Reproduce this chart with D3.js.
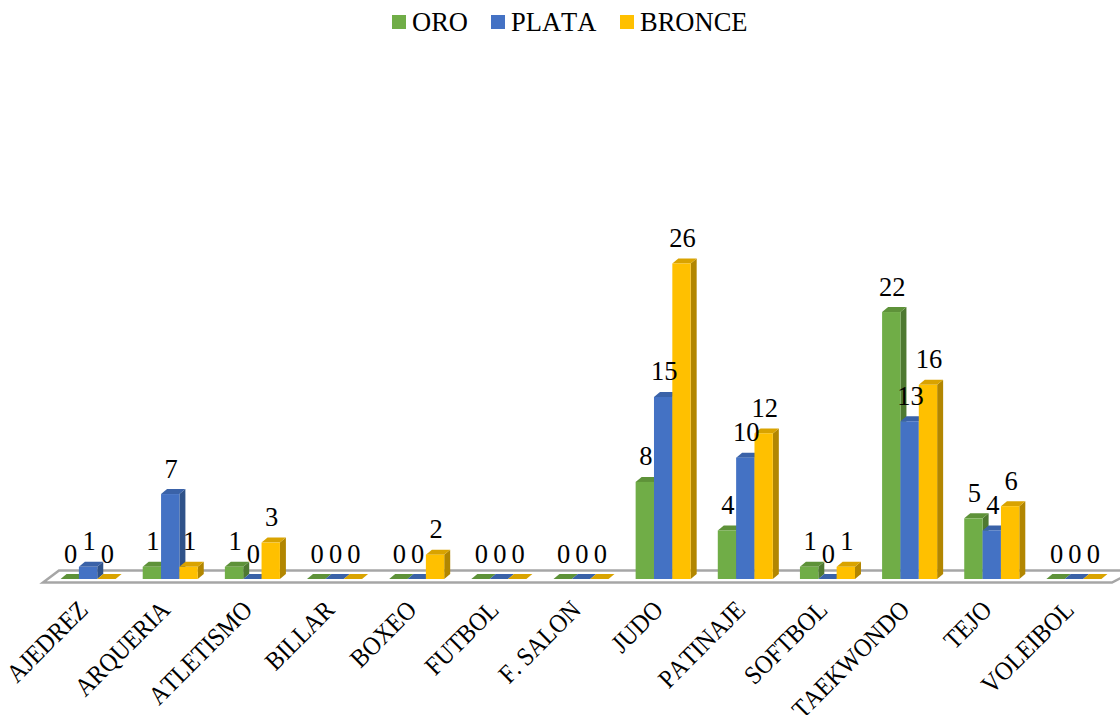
<!DOCTYPE html>
<html lang="es">
<head>
<meta charset="utf-8" />
<title>Medallas por deporte</title>
<script src="https://d3js.org/d3.v7.min.js"></script>
<style>
body { margin: 0; background: #fff; }
svg { display: block; font-family: "Liberation Serif", serif; fill: #000; font-kerning: none; }
</style>
</head>
<body>
<svg width="1120" height="715"></svg>
<script>
// data
var categories = ["AJEDREZ", "ARQUERIA", "ATLETISMO", "BILLAR", "BOXEO", "FUTBOL", "F. SALON", "JUDO", "PATINAJE", "SOFTBOL", "TAEKWONDO", "TEJO", "VOLEIBOL"];
var seriesNames = ["ORO", "PLATA", "BRONCE"];
var oro = [0, 1, 1, 0, 0, 0, 0, 8, 4, 1, 22, 5, 0];
var plata = [1, 7, 0, 0, 0, 0, 0, 15, 10, 0, 13, 4, 0];
var bronce = [0, 1, 3, 0, 2, 0, 0, 26, 12, 1, 16, 6, 0];
var seriesValues = [oro, plata, bronce];

var front = ["#70ad47", "#4472c4", "#ffc000"];
var side = ["#4e7931", "#2f5289", "#b28600"];
var top_ = ["#5e9239", "#3a62a8", "#d9a300"];

var svg = d3.select("svg");
var baseY = 579, depthX = 6, depthY = 5;

var x = d3.scaleBand().domain(categories).range([47, 1115]).paddingInner(0.33).paddingOuter(0.165);
var xs = d3.scaleBand().domain(seriesNames).range([0, x.bandwidth()]);
var y = d3.scaleLinear().domain([0, 26]).range([baseY, 263.5]);

// floor
svg.append("path")
	.attr("d", "M43,582.5L59,570.5H1135L1112,582.5Z")
	.attr("fill", "#fff")
	.attr("stroke", "#a6a6a6")
	.attr("stroke-width", 2.5);

// bars, left to right so that each one covers the side of the one before
var groups = svg.append("g").selectAll("g")
	.data(categories)
	.enter().append("g")
	.attr("transform", function(d) { return "translate(" + x(d) + ",0)"; });

groups.each(function(cat, i) {
	var g = d3.select(this);
	seriesNames.forEach(function(name, s) {
		var x0 = xs(name), w = xs.bandwidth(), v = seriesValues[s][i], t = y(v);
		g.append("path").attr("fill", side[s])
			.attr("d", "M" + (x0 + w) + "," + t + "l" + depthX + "," + (-depthY) + "V" + (baseY - depthY) + "l" + (-depthX) + "," + depthY + "Z");
		g.append("path").attr("fill", top_[s])
			.attr("d", "M" + x0 + "," + t + "l" + depthX + "," + (-depthY) + "h" + w + "l" + (-depthX) + "," + depthY + "Z");
		g.append("rect").attr("fill", front[s])
			.attr("x", x0).attr("y", t).attr("width", w).attr("height", baseY - t);
	});
});

// value labels on top of all bars
groups.each(function(cat, i) {
	var g = d3.select(this);
	seriesNames.forEach(function(name, s) {
		g.append("text")
			.attr("x", xs(name) + xs.bandwidth() / 2 + 1)
			.attr("y", y(seriesValues[s][i]) - 16.5)
			.attr("text-anchor", "middle")
			.attr("font-size", 26.5)
			.text(seriesValues[s][i]);
	});
});

// category axis, the slanted labels are a bit narrower than the font
var axis = svg.append("g")
	.attr("transform", "translate(0,590)")
	.call(d3.axisBottom(x).tickSize(0).tickPadding(0));
axis.select(".domain").remove();
axis.selectAll("text")
	.attr("font-family", "Liberation Serif")
	.attr("font-size", 26)
	.attr("fill", "#000")
	.attr("text-anchor", "end")
	.attr("dy", "0.35em")
	.attr("transform", "translate(-5,15) rotate(-45) scale(0.91,1)");

// legend
var legendX = [392, 491, 620];
var legend = svg.append("g").selectAll("g")
	.data(seriesNames)
	.enter().append("g")
	.attr("transform", function(d, i) { return "translate(" + legendX[i] + ",15)"; });
legend.append("rect")
	.attr("width", 14).attr("height", 14)
	.attr("fill", function(d, i) { return front[i]; });
legend.append("text")
	.attr("x", 20).attr("y", 16)
	.attr("font-size", 26.5)
	.text(function(d) { return d; });
</script>
</body>
</html>
